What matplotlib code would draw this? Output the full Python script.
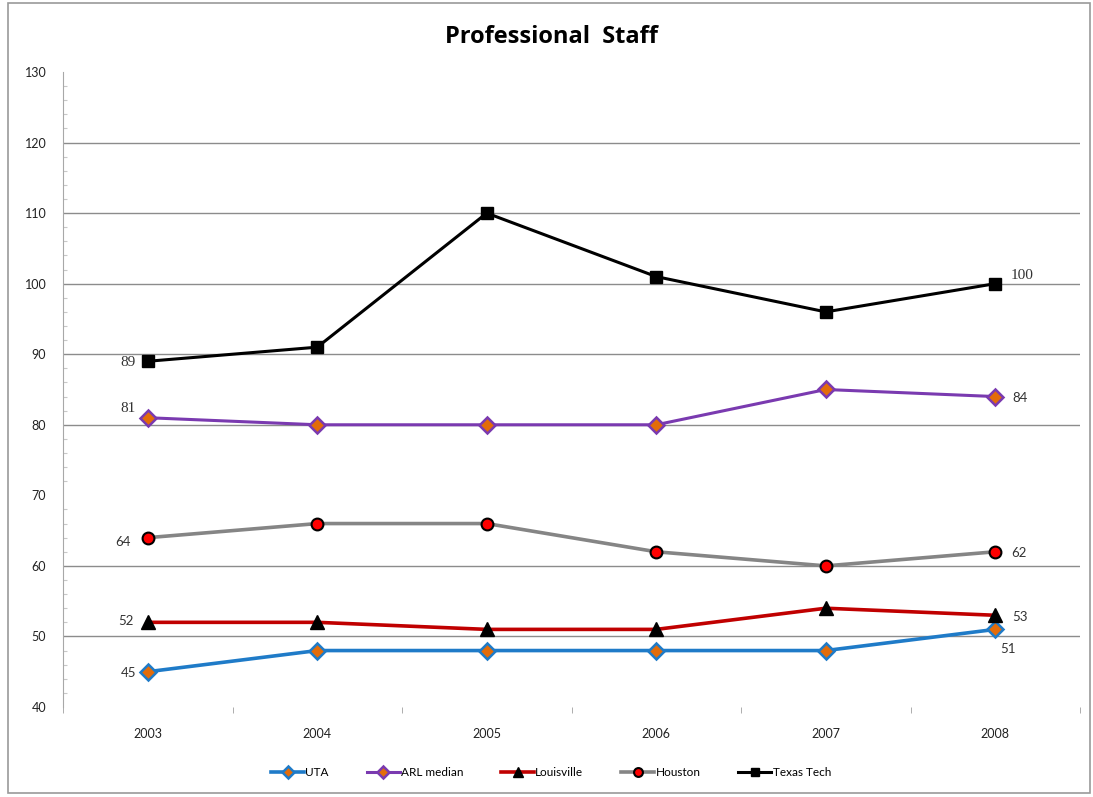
import matplotlib
matplotlib.use("Agg")
import matplotlib.pyplot as plt
from matplotlib.patches import Rectangle
from matplotlib.ticker import MultipleLocator

# data
years = ["2003", "2004", "2005", "2006", "2007", "2008"]
uta = [45, 48, 48, 48, 48, 51]
arl_median = [81, 80, 80, 80, 85, 84]
louisville = [52, 52, 51, 51, 54, 53]
houston = [64, 66, 66, 62, 60, 62]
texas_tech = [89, 91, 110, 101, 96, 100]
grid_values = [50, 60, 80, 90, 100, 110, 120]

plt.rcParams['font.family'] = ['Lato', 'DejaVu Sans']

fig = plt.figure(figsize=(10.93, 7.97), dpi=100)
ax = fig.add_axes([63/1093, 1-707/797, (1080-63)/1093, (707-72)/797])

# chart border
fig.patches.append(Rectangle((8/1093, 4/797), 1082/1093, 790/797, transform=fig.transFigure,
                             fill=False, edgecolor='#9a9a9a', linewidth=1.2))

x = list(range(len(years)))
orange = '#e36c09'

ax.plot(x, uta, color='#1f7bc8', lw=2.6, marker='D', ms=8, mfc=orange, mec='#1f7bc8', mew=1.8, label='UTA', zorder=5)
ax.plot(x, arl_median, color='#7a3ab0', lw=2.2, marker='D', ms=8, mfc=orange, mec='#7a3ab0', mew=1.8, label='ARL median', zorder=5)
ax.plot(x, louisville, color='#c00000', lw=2.6, marker='^', ms=9.5, mfc='black', mec='black', label='Louisville', zorder=5)
ax.plot(x, houston, color='#858585', lw=2.6, marker='o', ms=8.5, mfc='#ff0000', mec='black', mew=1.5, label='Houston', zorder=5)
ax.plot(x, texas_tech, color='black', lw=2.2, marker='s', ms=8.5, mfc='black', mec='black', label='Texas Tech', zorder=5)

for g in grid_values:
    ax.axhline(g, color='#8c8c8c', lw=1.0, zorder=1)

# data labels at the ends
serif = (['Liberation Serif'], 11)
sans = (['Lato'], 9.5)
ends = [
    (0, texas_tech[0], (-14, -1), serif),
    (0, arl_median[0], (-14, 7), serif),
    (0, houston[0], (-18, -3), sans),
    (0, louisville[0], (-16, 1), sans),
    (0, uta[0], (-14, -1), sans),
    (5, texas_tech[5], (19, 6), serif),
    (5, arl_median[5], (18, -1), sans),
    (5, houston[5], (17, -1), sans),
    (5, louisville[5], (18, -1), sans),
    (5, uta[5], (9, -14), sans),
]
for xi, yi, off, (fam, size) in ends:
    ax.annotate(str(yi), (xi, yi), xytext=off, textcoords='offset points',
                ha='center', va='center', fontsize=size, family=fam, color='#333333')

ax.set_xlim(-0.5, 5.5)
ax.set_ylim(40, 130)
ax.set_yticks(range(40, 131, 10))
ax.yaxis.set_minor_locator(MultipleLocator(2))
ax.set_xticks(x)
ax.set_xticklabels(years)
ax.set_xticks([i - 0.5 for i in range(len(years) + 1)], minor=True)
ax.tick_params(axis='x', which='major', length=0, pad=15, labelsize=9, colors='#222222')
ax.tick_params(axis='x', which='minor', length=4, color='#a0a0a0', direction='out')
ax.tick_params(axis='y', which='major', length=0, pad=12, labelsize=9, colors='#222222')
ax.tick_params(axis='y', which='minor', length=3, width=0.8, color='#c8c8c8', direction='in')

for s in ['top', 'right', 'bottom']:
    ax.spines[s].set_visible(False)
ax.spines['left'].set_color('#a8a8a8')
ax.spines['left'].set_bounds(40, 130)

fig.text(551/1093, 1-37/797, 'Professional  Staff', ha='center', va='center',
         fontsize=17, fontweight='bold', family=['Open Sans', 'DejaVu Sans'])

fig.legend(loc='center', bbox_to_anchor=(551/1093, 1-773/797), ncol=5, frameon=False,
           fontsize=8.5, handlelength=2.8, handletextpad=0.1, columnspacing=3.2, markerscale=0.75)

fig.savefig('out.png', dpi=100)
